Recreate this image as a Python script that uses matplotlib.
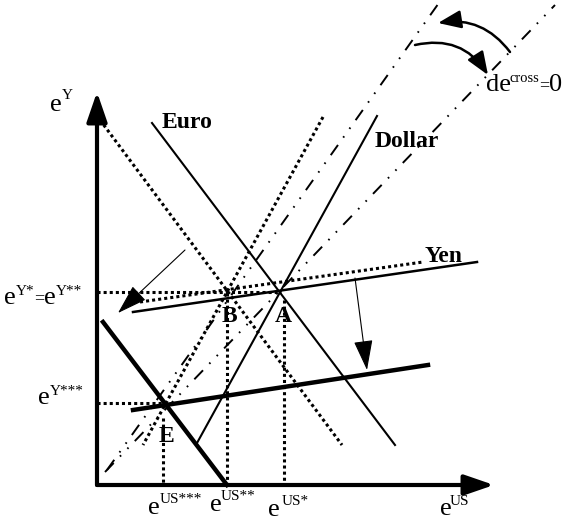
import matplotlib
matplotlib.use('Agg')
import matplotlib.pyplot as plt
from matplotlib.patches import FancyArrowPatch

plt.rcParams['lines.scale_dashes'] = False
SERIF = ['Liberation Serif', 'DejaVu Serif']

# curve end points, picture units (x right, y down)
euro = [(152, 123), (395, 445)]
euro_dotted = [(100, 120), (342, 445)]
euro_thick = [(103, 322), (227, 485)]
dollar = [(377, 116), (197, 443)]
dollar_dotted = [(323, 117), (143, 445)]
yen = [(133, 312), (477, 262)]
yen_dotted = [(140, 302), (423, 262)]
yen_thick = [(133, 410), (428, 365)]
cross_a = [(107, 470), (441, 0)]
cross_b = [(105, 472), (555, 5)]

# equilibrium points
pt_A = (281, 292)
pt_B = (227, 293)
pt_E = (163, 403)
origin = (97, 485)


def seg(ax, pts, **kw):
    (x0, y0), (x1, y1) = pts
    ax.plot([x0, x1], [y0, y1], color='black', **kw)


def arrow(ax, a, b, lw, hl, hw, rad=0.0):
    ax.add_patch(FancyArrowPatch(a, b, arrowstyle=f'-|>,head_length={hl},head_width={hw}',
                                 connectionstyle=f'arc3,rad={rad}', mutation_scale=1,
                                 lw=lw, color='black', shrinkA=0, shrinkB=0))


def txt(ax, x, y, s, size, bold=False):
    ax.text(x, y, s, fontsize=size, family=SERIF, ha='left', va='baseline',
            fontweight='bold' if bold else 'normal')


fig = plt.figure(figsize=(5.63, 5.20), dpi=100)
ax = fig.add_axes([0, 0, 1, 1])
ax.set_xlim(0, 563)
ax.set_ylim(520, 0)
ax.axis('off')

dotted = dict(lw=2.2, linestyle=(0, (2.2, 2.2)))
ddot = dict(lw=1.4, linestyle=(0, (9, 6.5, 1.2, 6.5, 1.2, 6.5)))

# de_cross = 0 rays
seg(ax, cross_a, **ddot)
seg(ax, cross_b, **ddot)

# old curves (dotted)
seg(ax, euro_dotted, **dotted)
seg(ax, dollar_dotted, **dotted)
seg(ax, yen_dotted, **dotted)

# guide lines
seg(ax, [(origin[0], pt_A[1]), pt_A], **dotted)
seg(ax, [(origin[0], pt_E[1]), pt_E], **dotted)
seg(ax, [(pt_B[0], pt_B[1]), (pt_B[0], origin[1])], **dotted)
seg(ax, [(pt_A[0] + 3, pt_A[1] + 8), (pt_A[0] + 3, origin[1])], **dotted)
seg(ax, [(pt_E[0], pt_E[1] + 15), (pt_E[0], origin[1])], **dotted)

# current curves
seg(ax, euro, lw=1.5)
seg(ax, dollar, lw=1.5)
seg(ax, yen, lw=1.8)
seg(ax, euro_thick, lw=3.2)
seg(ax, yen_thick, lw=3.2)

# axes
arrow(ax, origin, (origin[0], 92), 3, 18, 6.2)
arrow(ax, origin, (494, origin[1]), 3, 18, 6.2)

# shift arrows
arrow(ax, (185, 250), (118, 313), 0.8, 19, 6)
arrow(ax, (355, 278), (367, 370), 0.8, 19, 6)
arrow(ax, (415, 45), (488, 75), 1.8, 14, 5.5, rad=-0.35)
arrow(ax, (510, 52), (438, 23), 1.8, 14, 5.5, rad=0.3)

# labels
big, small = 19, 11
txt(ax, 50, 111, 'e', big)
txt(ax, 62, 99, 'Y', small)
txt(ax, 4, 304, 'e', big)
txt(ax, 16, 295, 'Y*', small)
txt(ax, 34, 303, '=', 13)
txt(ax, 44, 304, 'e', big)
txt(ax, 56, 295, 'Y**', small)
txt(ax, 38, 404, 'e', big)
txt(ax, 50, 395, 'Y***', small)

txt(ax, 148, 514, 'e', big)
txt(ax, 160, 503, 'US***', small)
txt(ax, 210, 511, 'e', big)
txt(ax, 221, 500, 'US**', small)
txt(ax, 268, 516, 'e', big)
txt(ax, 282, 505, 'US*', small)
txt(ax, 440, 515, 'e', big)
txt(ax, 450, 505, 'US', small)

txt(ax, 486, 91, 'de', big)
txt(ax, 509, 82, 'cross', 10.5)
txt(ax, 539, 90, '=', 13)
txt(ax, 549, 91, '0', big)

txt(ax, 162, 128, 'Euro', 17, bold=True)
txt(ax, 375, 147, 'Dollar', 17, bold=True)
txt(ax, 425, 262, 'Yen', 17, bold=True)
txt(ax, 222, 322, 'B', 17, bold=True)
txt(ax, 275, 322, 'A', 17, bold=True)
txt(ax, 159, 442, 'E', 17, bold=True)

fig.savefig('out.png', dpi=100)
